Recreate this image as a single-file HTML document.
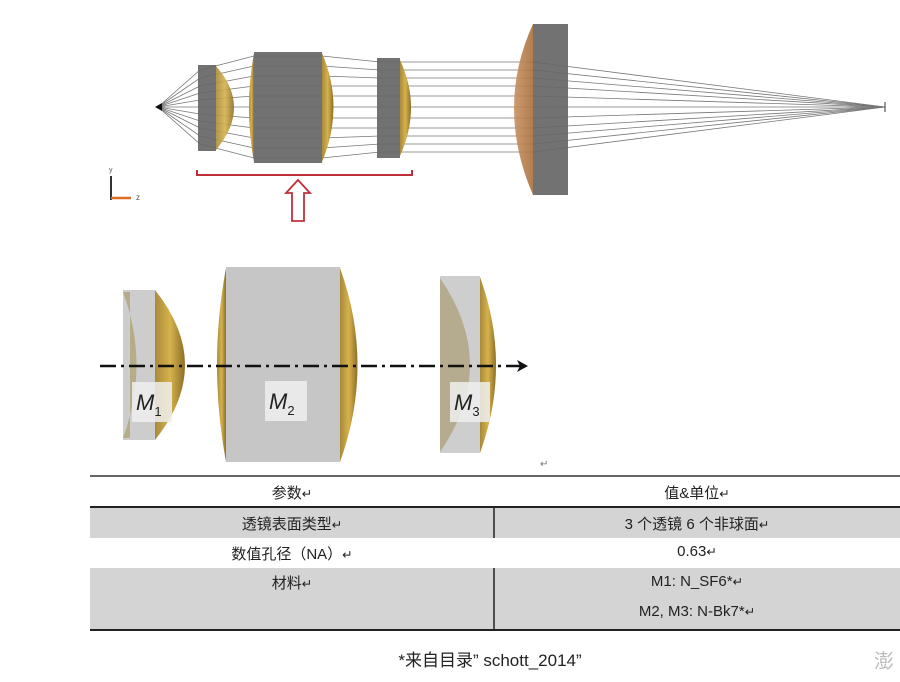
<!DOCTYPE html>
<html><head><meta charset="utf-8"><style>
body{margin:0;width:900px;height:682px;background:#fff;overflow:hidden;font-family:"Liberation Sans","Noto Sans CJK SC",sans-serif;}
.t{position:absolute;font-size:15px;color:#222;text-align:center}
</style></head><body>
<svg width="900" height="682" style="position:absolute;left:0;top:0">
<defs>
<linearGradient id="g" x1="0" x2="1"><stop offset="0" stop-color="#a88a3a"/><stop offset="0.5" stop-color="#d6b24c"/><stop offset="1" stop-color="#8c6f28"/></linearGradient>
<linearGradient id="o" x1="0" x2="1"><stop offset="0" stop-color="#c99060"/><stop offset="1" stop-color="#a86f3c"/></linearGradient>
</defs>
<!-- rays -->
<g stroke="#777" stroke-width="0.8" fill="none">
<path d="M158,107 L200,70 L254,56 L322,56 L380,62 L533,62 L885,107"/>
<path d="M158,107 L200,78 L254,66 L322,66 L380,70 L533,70 L885,107"/>
<path d="M158,107 L200,86 L254,76 L322,76 L380,78 L533,78 L885,107"/>
<path d="M158,107 L200,93 L254,86 L322,86 L380,86 L533,86 L885,107"/>
<path d="M158,107 L200,100 L254,96 L322,96 L380,96 L533,96 L885,107"/>
<path d="M158,107 L885,107"/>
<path d="M158,107 L200,114 L254,118 L322,118 L380,118 L533,118 L885,107"/>
<path d="M158,107 L200,121 L254,128 L322,128 L380,128 L533,128 L885,107"/>
<path d="M158,107 L200,128 L254,138 L322,138 L380,136 L533,136 L885,107"/>
<path d="M158,107 L200,136 L254,148 L322,148 L380,144 L533,144 L885,107"/>
<path d="M158,107 L200,144 L254,158 L322,158 L380,152 L533,152 L885,107"/>
</g>
<!-- top lenses -->
<path d="M216,66 Q252,107 216,150 Z" fill="url(#g)" opacity="0.9"/>
<rect x="198" y="65" width="18" height="86" fill="#666" opacity="0.92"/>
<path d="M254,53 Q244,107 254,162 Z" fill="url(#g)"/>
<path d="M322,53 Q345,107 322,162 Z" fill="url(#g)"/>
<rect x="254" y="52" width="68" height="111" fill="#666" opacity="0.92"/>
<path d="M400,60 Q422,107 400,156 Z" fill="url(#g)"/>
<rect x="377" y="58" width="23" height="100" fill="#666" opacity="0.92"/>
<path d="M533,24 Q495,107 533,195 Z" fill="url(#o)" opacity="0.9"/>
<rect x="533" y="24" width="35" height="171" fill="#666" opacity="0.92"/>
<path d="M155,107 L162,103 L162,111 Z" fill="#111"/>
<line x1="885" y1="102" x2="885" y2="112" stroke="#333"/>
<!-- bracket -->
<path d="M197,170 L197,175 L412,175 L412,170" stroke="#c0303a" stroke-width="2" fill="none"/>
<path d="M298,180 L310,193 L304,193 L304,221 L292,221 L292,193 L286,193 Z" stroke="#c0303a" stroke-width="1.8" fill="#fff"/>
<!-- axis -->
<line x1="111" y1="200" x2="111" y2="176" stroke="#333" stroke-width="2"/>
<line x1="111" y1="198" x2="131" y2="198" stroke="#e06a20" stroke-width="2.5"/>
<text x="109" y="172" font-size="7" fill="#555">y</text><text x="136" y="200" font-size="8" fill="#555">z</text>
<!-- bottom lenses -->
<path d="M155,290 Q215,365 155,440 Z" fill="url(#g)"/>
<rect x="123" y="290" width="32" height="150" fill="#c4c4c4" opacity="0.85"/>
<path d="M123,292 Q150,365 123,438 L130,438 L130,292 Z" fill="#a8965c" opacity="0.6"/>
<path d="M226,268 Q208,365 226,462 Z" fill="url(#g)"/>
<path d="M340,268 Q375,365 340,462 Z" fill="url(#g)"/>
<rect x="226" y="267" width="114" height="195" fill="#c6c6c6"/>
<path d="M480,277 Q512,365 480,453 Z" fill="url(#g)"/>
<rect x="440" y="276" width="40" height="177" fill="#c6c6c6" opacity="0.85"/>
<path d="M440,278 Q500,365 440,452 Z" fill="#a0905c" opacity="0.55"/>
<line x1="100" y1="366" x2="520" y2="366" stroke="#111" stroke-width="2.5" stroke-dasharray="16,5,3,5"/>
<path d="M528,366 L517,360 L520,366 L517,372 Z" fill="#111"/>
<rect x="132" y="382" width="40" height="40" fill="#eee" opacity="0.85"/>
<rect x="265" y="381" width="42" height="40" fill="#eee" opacity="0.85"/>
<rect x="450" y="382" width="40" height="40" fill="#eee" opacity="0.85"/>
<g font-size="22" font-style="italic" fill="#222" font-family="Liberation Sans">
<text x="136" y="410">M<tspan font-size="13" dy="6" font-style="normal">1</tspan></text>
<text x="269" y="409">M<tspan font-size="13" dy="6" font-style="normal">2</tspan></text>
<text x="454" y="410">M<tspan font-size="13" dy="6" font-style="normal">3</tspan></text>
</g>
<text x="540" y="467" font-size="10" fill="#777">↵</text>
<!-- table -->
<rect x="90" y="507" width="810" height="31" fill="#d4d4d4"/>
<rect x="90" y="568" width="810" height="62" fill="#d4d4d4"/>
<line x1="90" y1="476" x2="900" y2="476" stroke="#333" stroke-width="1.5"/>
<line x1="90" y1="507" x2="900" y2="507" stroke="#222" stroke-width="2"/>
<line x1="90" y1="630" x2="900" y2="630" stroke="#222" stroke-width="2"/>
<line x1="494" y1="507" x2="494" y2="538" stroke="#222" stroke-width="1.5"/>
<line x1="494" y1="568" x2="494" y2="630" stroke="#222" stroke-width="1.5"/>
</svg>
<div class="t" style="left:90px;width:404px;top:482px">参数<small>↵</small></div>
<div class="t" style="left:494px;width:406px;top:482px">值&amp;单位<small>↵</small></div>
<div class="t" style="left:90px;width:404px;top:513px">透镜表面类型<small>↵</small></div>
<div class="t" style="left:494px;width:406px;top:513px">3 个透镜 6 个非球面<small>↵</small></div>
<div class="t" style="left:90px;width:404px;top:543px">数值孔径（NA）<small>↵</small></div>
<div class="t" style="left:494px;width:406px;top:543px">0.63<small>↵</small></div>
<div class="t" style="left:90px;width:404px;top:572px">材料<small>↵</small></div>
<div class="t" style="left:494px;width:406px;top:573px">M1: N_SF6*<small>↵</small></div>
<div class="t" style="left:494px;width:406px;top:603px">M2, M3: N-Bk7*<small>↵</small></div>
<div class="t" style="left:290px;width:400px;top:646px;font-size:17px">*来自目录”&nbsp;schott_2014”</div>
<div class="t" style="left:874px;top:645px;font-size:20px;color:#bbb">澎</div>
</body></html>
